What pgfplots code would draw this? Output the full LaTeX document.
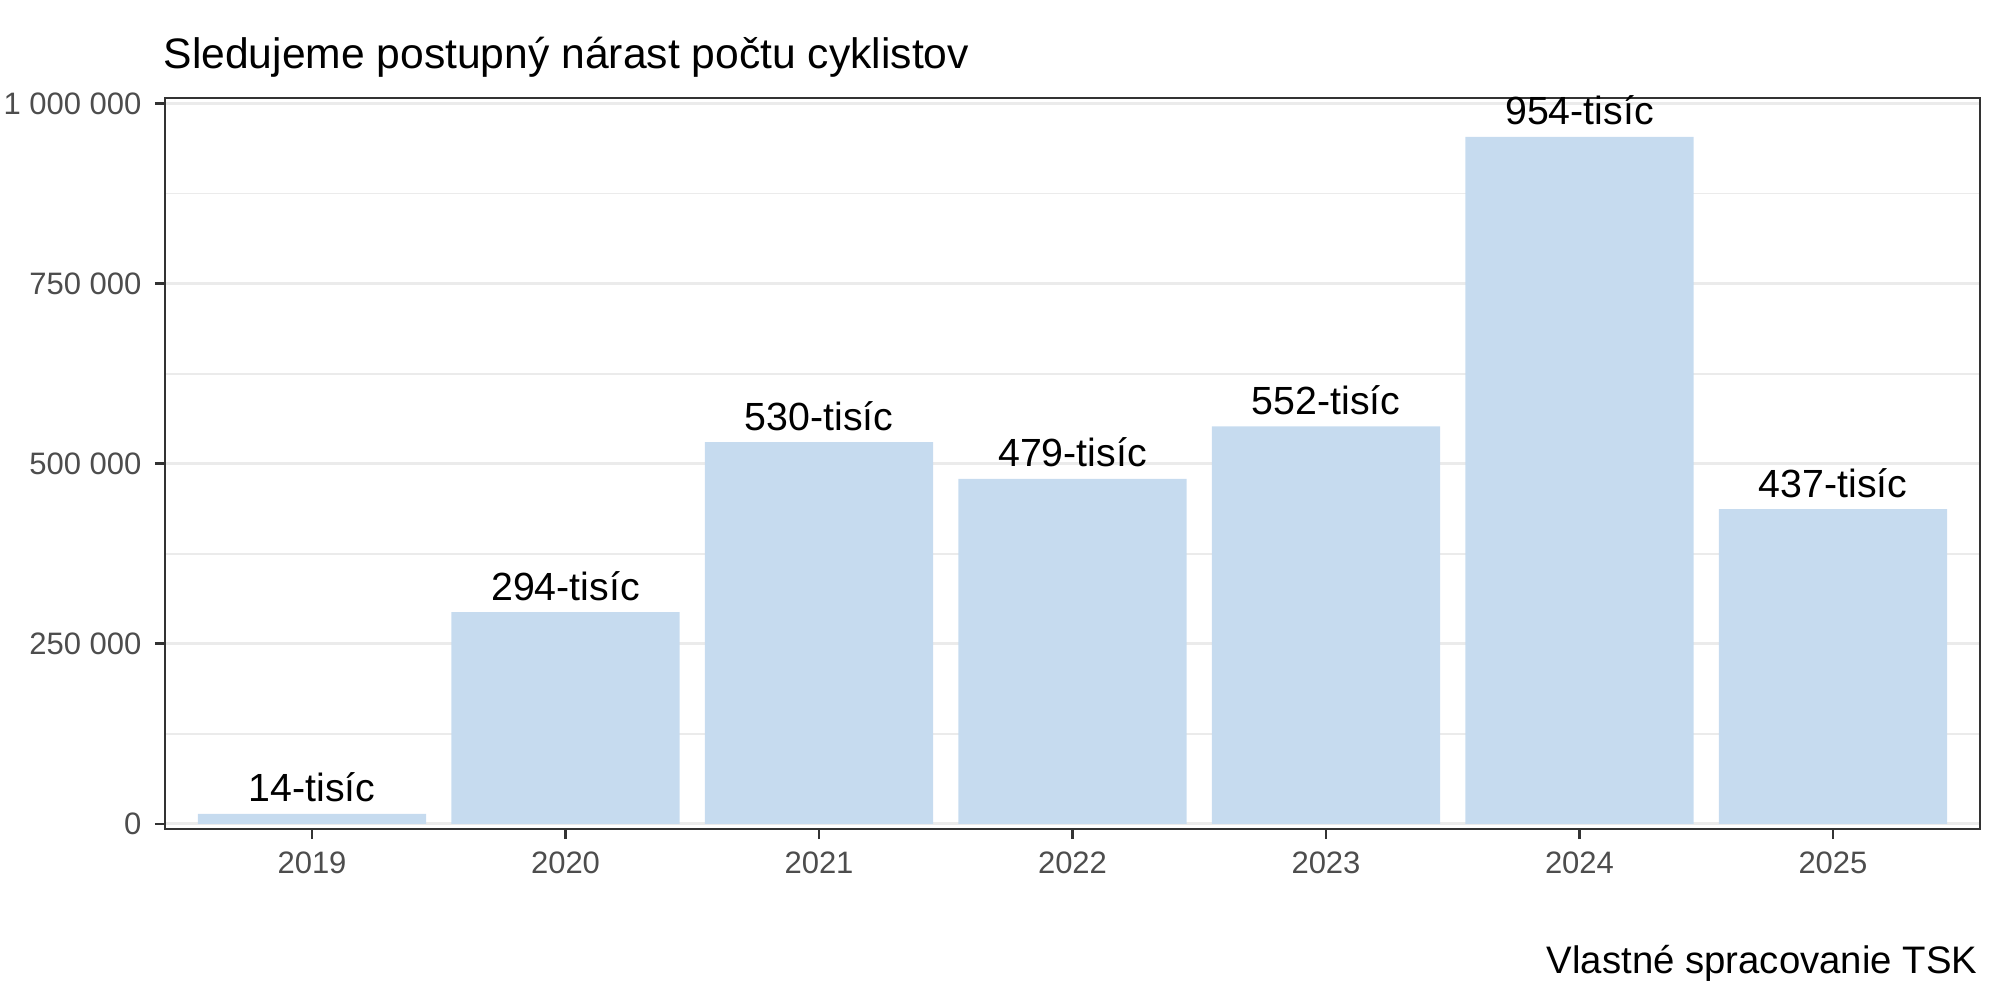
\documentclass[border=0pt]{standalone}
\usepackage{fontspec}
\setmainfont{Liberation Sans}
\usepackage{pgfplots}
\pgfplotsset{compat=1.18}

\definecolor{barblue}{HTML}{C6DBEF}
\definecolor{gridmaj}{HTML}{EBEBEB}
\definecolor{gray20}{HTML}{333333}
\definecolor{gray30}{HTML}{4D4D4D}

\begin{document}
\begin{tikzpicture}
\path[use as bounding box] (0,0) rectangle (720bp,360bp);

\begin{axis}[
at={(59.4bp,61.56bp)}, anchor=south west,
scale only axis,
width=653.4bp, height=263.2bp,
xmin=-0.58, xmax=6.58,
ymin=-7000, ymax=1008000,
xtick={0,1,2,3,4,5,6},
xticklabels={2019,2020,2021,2022,2023,2024,2025},
ytick={0,250000,500000,750000,1000000},
yticklabels={0,250 000,500 000,750 000,1 000 000},
minor ytick={125000,375000,625000,875000},
ymajorgrids, yminorgrids,
major grid style={color=gridmaj, line width=1.1pt},
minor grid style={color=gridmaj, line width=0.55pt},
axis line style={color=gray20, line width=0.7pt},
tick align=outside, tick pos=left,
major tick length=3.6bp, minor tick length=0pt,
major tick style={color=gray20, line width=1pt},
ticklabel style={font=\fontsize{11.2}{13}\selectfont, text=gray30, inner sep=0pt},
xticklabel style={yshift=-4.4bp},
yticklabel style={xshift=-4.7bp},
scaled y ticks=false,
clip=false,
]
\addplot[ybar, bar width=0.9, fill=barblue, draw=none,
  point meta=explicit symbolic, nodes near coords,
  nodes near coords style={anchor=base, yshift=4.3bp, inner sep=0pt,
    font=\fontsize{14.2}{17}\selectfont, text=black}]
coordinates {
(0,14000) [14-tisíc]
(1,294000) [294-tisíc]
(2,530000) [530-tisíc]
(3,479000) [479-tisíc]
(4,552000) [552-tisíc]
(5,954000) [954-tisíc]
(6,437000) [437-tisíc]
};
\end{axis}

\node[anchor=base west, inner sep=0pt, font=\fontsize{15.4}{18}\selectfont]
  at (58.7bp,335.5bp) {Sledujeme postupný nárast počtu cyklistov};
\node[anchor=base east, inner sep=0pt, font=\fontsize{13.85}{16}\selectfont]
  at (712bp,9.7bp) {Vlastné spracovanie TSK};
\end{tikzpicture}
\end{document}
